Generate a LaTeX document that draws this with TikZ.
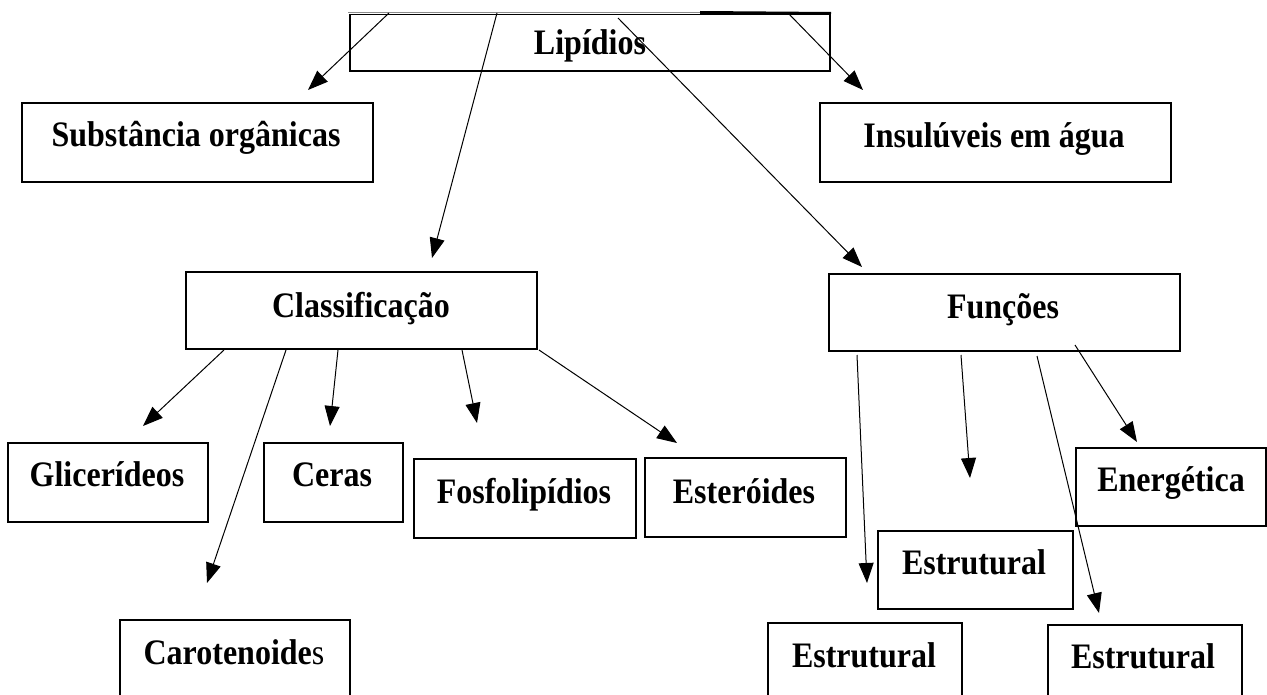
\documentclass[tikz,border=0pt]{standalone}
\usepackage{fontspec}
\usepackage{graphicx}
\setmainfont{Liberation Serif}
\usetikzlibrary{arrows.meta}
\newcommand\tall[1]{\scalebox{1}[1.12]{#1}}
\begin{document}
\begin{tikzpicture}[x=1pt,y=-1pt,
  box/.style={draw=black, line width=2pt, anchor=north west, inner sep=0pt},
  lbl/.style={font=\fontsize{32}{36}\selectfont\bfseries, inner sep=0pt, anchor=base},
  link/.style={draw=black, line width=1pt, -{Triangle[length=20pt,width=15pt]}}]
\useasboundingbox (0,0) rectangle (1267,695);
\clip (0,0) rectangle (1267,695);

% boxes: anchored at their top-left corner
\node[box, minimum width=480pt, minimum height=57pt] (lip) at (349,13) {};
\node[box, minimum width=351pt, minimum height=79pt] (sub) at (21,102) {};
\node[box, minimum width=351pt, minimum height=79pt] (ins) at (819,102) {};
\node[box, minimum width=351pt, minimum height=77pt] (cla) at (185,271) {};
\node[box, minimum width=351pt, minimum height=77pt] (fun) at (828,273) {};
\node[box, minimum width=200pt, minimum height=79pt] (gli) at (7,442) {};
\node[box, minimum width=139pt, minimum height=79pt] (cer) at (263,442) {};
\node[box, minimum width=222pt, minimum height=79pt] (fos) at (413,458) {};
\node[box, minimum width=201pt, minimum height=79pt] (est) at (644,457) {};
\node[box, minimum width=230pt, minimum height=90pt] (car) at (119,619) {};
\node[box, minimum width=195pt, minimum height=78pt] (stc) at (877,530) {};
\node[box, minimum width=190pt, minimum height=78pt] (ene) at (1075,447) {};
\node[box, minimum width=194pt, minimum height=90pt] (stl) at (767,622) {};
\node[box, minimum width=194pt, minimum height=90pt] (str) at (1047,624) {};

% the left part of the title box's top edge is a thin grey rule
\coordinate (lipA) at (348,13);
\coordinate (lipB) at (700,13);
\draw[white, line width=2.6pt] (lipA) -- (lipB);
\draw[black!45, line width=1pt] (lipA) -- (lipB);
\draw[black, line width=2pt] (lipB) ++(0,-1) -- (lip.north east);

% labels, placed on their baselines
\node[lbl] (lipT) at (590,55)  {\tall{Lipídios}};
\node[lbl] (subT) at (196,147) {\tall{Substância orgânicas}};
\node[lbl] (insT) at (994,148) {\tall{Insulúveis em água}};
\node[lbl] (claT) at (361,317) {\tall{Classificação}};
\node[lbl] (funT) at (1003,318) {\tall{Funções}};
\node[lbl] (gliT) at (107,486) {\tall{Glicerídeos}};
\node[lbl] (cerT) at (332,486) {\tall{Ceras}};
\node[lbl] (fosT) at (524,503) {\tall{Fosfolipídios}};
\node[lbl] (estT) at (744,503) {\tall{Esteróides}};
\node[lbl] (carT) at (234,664) {\tall{Carotenoide\mdseries s}};
\node[lbl] (stcT) at (974,574) {\tall{Estrutural}};
\node[lbl] (eneT) at (1171,491) {\tall{Energética}};
\node[lbl] (stlT) at (864,667) {\tall{Estrutural}};
\node[lbl] (strT) at (1143,668) {\tall{Estrutural}};

% connector end points
\coordinate (l1a) at (389,13);  \coordinate (l1b) at (308,90);
\coordinate (l2a) at (497,13);  \coordinate (l2b) at (432,258);
\coordinate (l3a) at (618,18);  \coordinate (l3b) at (862,267);
\coordinate (l4a) at (788,13);  \coordinate (l4b) at (863,90);
\coordinate (c1a) at (224,350); \coordinate (c1b) at (143,426);
\coordinate (c2a) at (286,350); \coordinate (c2b) at (207,583);
\coordinate (c3a) at (338,350); \coordinate (c3b) at (330,426);
\coordinate (c4a) at (462,350); \coordinate (c4b) at (477,423);
\coordinate (c5a) at (539,350); \coordinate (c5b) at (677,443);
\coordinate (f1a) at (857,355); \coordinate (f1b) at (867,583);
\coordinate (f2a) at (961,355); \coordinate (f2b) at (970,478);
\coordinate (f3a) at (1037,356); \coordinate (f3b) at (1099,613);
\coordinate (f4a) at (1075,345); \coordinate (f4b) at (1137,442);

% connectors
\foreach \p in {l1,l2,l3,l4,c1,c2,c3,c4,c5,f1,f2,f3,f4}
  \draw[link] (\p a) -- (\p b);
\end{tikzpicture}
\end{document}
